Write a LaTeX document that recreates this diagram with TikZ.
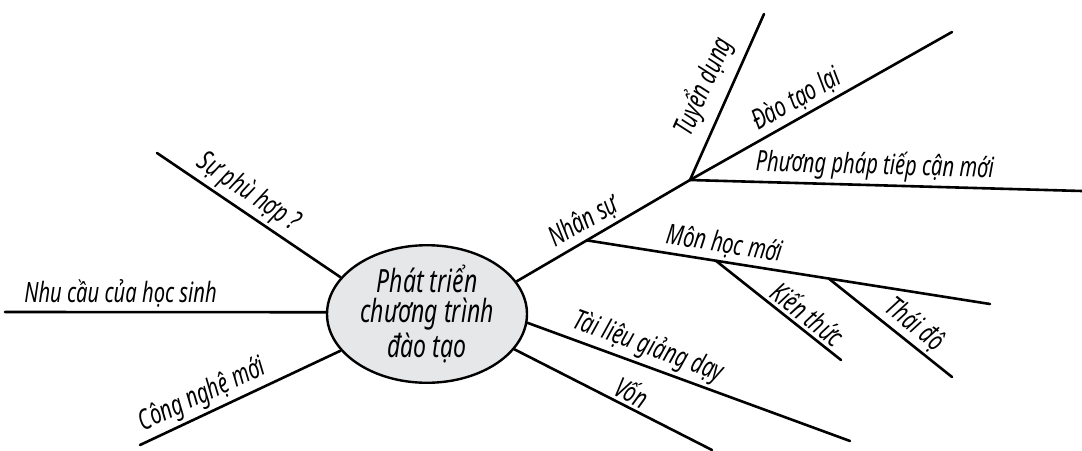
\documentclass[tikz,border=0pt]{standalone}
\usepackage{fontspec}
\newfontfamily\handfont{Noto Sans}[FakeStretch=0.72]
\usetikzlibrary{shapes.geometric, calc}
\definecolor{bubbleGray}{RGB}{230, 231, 233}
\tikzset{
    branch/.style={
        line width=1.3pt,
        line cap=round
    },
    topic/.style={
        ellipse,
        draw,
        line width=1.2pt,
        fill=bubbleGray,
        minimum width=100pt,
        minimum height=61pt,
        inner sep=0pt,
        align=center,
        font=\handfont\itshape\fontsize{16}{15}\selectfont
    },
    leaf/.style={
        font=\handfont\itshape\fontsize{14}{15}\selectfont,
        sloped,
        above,
        inner sep=1.5pt
    }
}

\begin{document}
\begin{tikzpicture}[x=0.5pt, y=-0.5pt]
    \useasboundingbox (0,0) rectangle (1082,450);

    % Central topic
    \node[topic] (ctr) at (427,314) {Phát triển\\chương trình\\đào tạo};

    % Free ends of the branches
    \coordinate (sp) at (157,153);
    \coordinate (nc) at (5,312);
    \coordinate (cn) at (140,445);
    \coordinate (hub) at (690,180);
    \coordinate (td) at (764,14);
    \coordinate (dt) at (952,32);
    \coordinate (pp) at (1082,191);
    \coordinate (mhEnd) at (990,304);
    \coordinate (ktEnd) at (841,360);
    \coordinate (thEnd) at (952,377);
    \coordinate (tl) at (850,441);
    \coordinate (vn) at (712,450);

    % Left side
    \draw[branch] (sp) -- node[leaf, pos=0.44] (lsp) {Sự phù hợp ?} (ctr.157);
    \draw[branch] (nc) -- node[leaf, pos=0.36] (lnc) {Nhu cầu của học sinh} (ctr.179);
    \draw[branch] (cn) -- node[leaf, pos=0.35] (lcn) {Công nghệ mới} (ctr.203);

    % Nhan su and its sub-branches
    \draw[branch] (ctr.20) -- node[leaf, pos=0.44] (lns) {Nhân sự} (hub);
    \draw[branch] (hub) -- node[leaf, pos=0.5, above=3pt] (ltd) {Tuyển dụng} (td);
    \draw[branch] (hub) -- node[leaf, pos=0.44] (ldt) {Đào tạo lại} (dt);
    \draw[branch] (hub) -- node[leaf, pos=0.47] (lpp) {Phương pháp tiếp cận mới} (pp);

    % Mon hoc moi
    \coordinate (mh) at ($(ctr.20)!0.405!(hub)$);
    \draw[branch] (mh) -- node[leaf, pos=0.335] (lmh) {Môn học mới} (mhEnd);
    \coordinate (kt) at ($(mh)!0.32!(mhEnd)$);
    \coordinate (th) at ($(mh)!0.6!(mhEnd)$);
    \draw[branch] (kt) -- node[leaf, pos=0.66] (lkt) {Kiến thức} (ktEnd);
    \draw[branch] (th) -- node[leaf, pos=0.61] (lth) {Thái độ} (thEnd);

    % Lower right
    \draw[branch] (ctr.355) -- node[leaf, pos=0.355] (ltl) {Tài liệu giảng dạy} (tl);
    \draw[branch] (ctr.338) -- node[leaf, pos=0.56] (lvn) {Vốn} (vn);

\end{tikzpicture}
\end{document}
